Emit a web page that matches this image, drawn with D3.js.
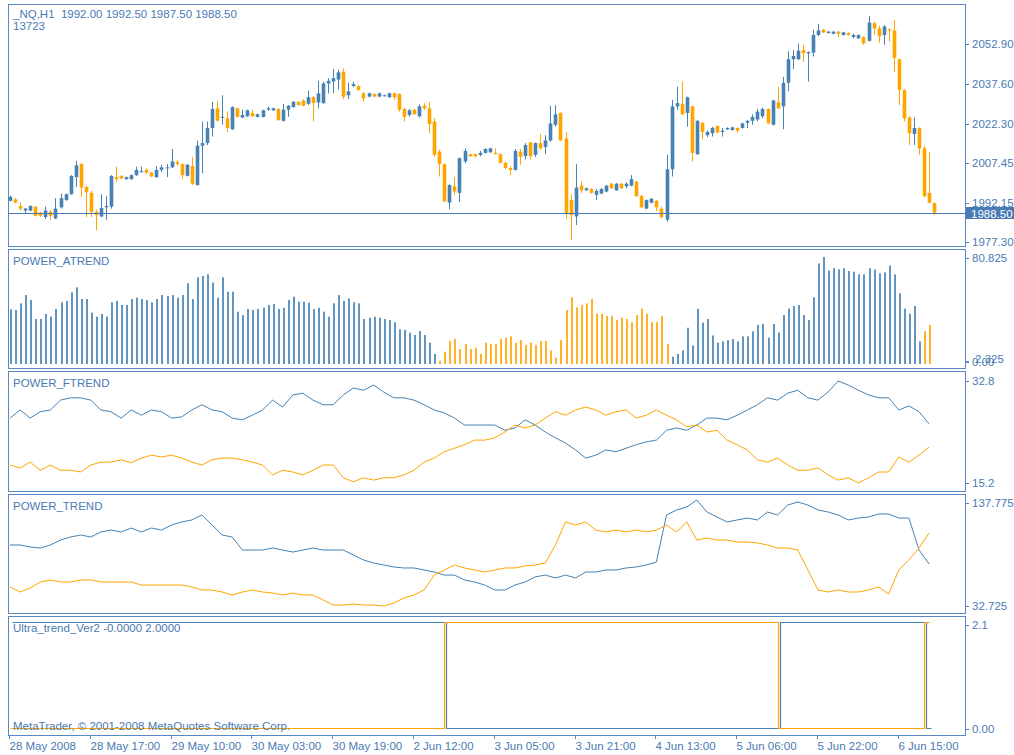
<!DOCTYPE html>
<html>
<head>
<meta charset="utf-8">
<script src="https://cdn.jsdelivr.net/npm/d3@7"></script>
<style>
body { margin: 0; background: #fff; }
svg text { font-family: "Liberation Sans", Arial, sans-serif; font-size: 11.5px; fill: #4a7ab4; }
</style>
</head>
<body>
<svg width="1014" height="755"></svg>
<script>
// ---- data ----
const xLabels = ["28 May 2008", "28 May 17:00", "29 May 10:00", "30 May 03:00", "30 May 19:00", "2 Jun 12:00",
                 "3 Jun 05:00", "3 Jun 21:00", "4 Jun 13:00", "5 Jun 06:00", "5 Jun 22:00", "6 Jun 15:00"];
const xTickBars = [0, 16, 32, 48, 64, 80, 96, 112, 128, 144, 160, 176];

const open = [1993.0,1993.5,1991.0,1989.25,1989.25,1990.75,1988.5,1986.75,1988.75,1986.25,
  1990.5,1993.25,1995.5,2002.0,2007.0,1998.25,1996.0,1988.75,1987.0,1990.5,
  1990.75,2002.0,2002.5,2001.25,2001.25,2002.75,2004.0,2004.75,2003.75,2002.0,
  2004.75,2005.5,2005.75,2007.75,2007.0,2002.5,2006.25,1999.0,2014.0,2015.0,
  2020.75,2028.25,2024.75,2024.5,2020.25,2028.25,2024.75,2025.25,2026.5,2025.0,
  2025.0,2027.75,2027.5,2028.0,2023.5,2027.75,2028.75,2030.75,2031.25,2030.0,
  2032.5,2030.5,2030.25,2037.75,2038.5,2039.25,2042.25,2033.25,2036.75,2036.75,
  2034.0,2032.75,2033.75,2032.75,2033.0,2032.5,2034.0,2033.75,2028.0,2025.75,
  2027.75,2025.25,2029.25,2028.25,2023.25,2011.75,2007.0,1992.25,1998.5,1996.0,
  2008.0,2010.75,2010.75,2010.5,2011.25,2011.5,2011.25,2010.75,2007.5,2005.5,
  2004.75,2011.75,2010.0,2015.25,2010.5,2015.0,2013.5,2016.0,2022.0,2026.5,
  2016.75,1993.25,1987.0,1998.75,1997.0,1997.5,1995.25,1995.75,1996.5,1999.5,
  1997.0,1999.5,1998.5,1998.75,2000.25,1994.75,1990.0,1992.25,1993.0,1990.0,
  1985.75,2005.0,2029.0,2030.0,2026.5,2029.0,2010.75,2022.75,2018.0,2018.75,
  2021.5,2019.25,2020.25,2020.0,2020.75,2020.75,2022.75,2023.5,2024.0,2025.25,
  2028.0,2022.0,2030.5,2029.0,2038.0,2047.0,2047.0,2050.5,2049.25,2049.5,
  2056.25,2058.25,2057.0,2056.75,2057.5,2056.25,2057.0,2055.5,2055.0,2055.5,
  2054.0,2060.75,2058.75,2056.25,2058.5,2058.0,2047.0,2035.25,2024.75,2018.5,
  2020.75,2013.0,1996.0,1992.0];
const high = [1995.0,1994.0,1992.5,1990.25,1991.25,1991.0,1988.75,1990.75,1989.5,1994.0,
  1995.75,1995.75,2002.75,2008.25,2007.5,1998.75,1996.75,1989.75,1995.5,1994.75,
  2002.75,2006.0,2002.75,2002.25,2003.0,2006.0,2006.0,2005.5,2004.0,2006.25,
  2006.75,2007.0,2012.75,2008.5,2007.25,2007.0,2009.75,2016.0,2023.25,2023.25,
  2030.75,2030.75,2033.25,2027.0,2029.0,2028.5,2027.75,2027.75,2027.75,2026.25,
  2027.75,2029.0,2028.5,2028.25,2030.0,2029.5,2031.0,2031.0,2031.75,2035.0,
  2033.0,2038.75,2038.5,2039.75,2043.25,2043.0,2043.5,2038.0,2038.5,2037.0,
  2034.5,2034.25,2034.0,2034.25,2033.5,2034.25,2034.25,2034.0,2028.5,2028.0,
  2028.0,2029.75,2030.25,2030.75,2024.5,2012.5,2007.25,1999.25,2002.0,2009.5,
  2013.0,2011.0,2011.0,2012.0,2013.0,2013.25,2013.0,2011.0,2007.75,2006.25,
  2012.75,2012.75,2015.0,2015.5,2015.25,2018.5,2018.0,2029.25,2029.5,2026.75,
  2019.25,1995.5,2007.0,2000.25,1998.0,1997.75,1997.5,1997.75,1999.0,1999.75,
  1999.75,1999.75,2000.0,2002.75,2000.75,1995.25,1993.5,1994.0,1993.25,1990.75,
  2010.5,2031.5,2036.5,2038.5,2032.75,2029.25,2023.75,2023.0,2019.75,2021.25,
  2021.75,2020.75,2021.0,2021.25,2021.0,2022.75,2023.75,2026.0,2028.0,2028.5,
  2028.25,2031.5,2036.5,2040.25,2050.0,2050.5,2053.0,2052.5,2050.0,2058.25,
  2060.5,2058.5,2057.75,2057.75,2057.75,2057.5,2057.25,2056.75,2056.5,2055.75,
  2063.5,2061.25,2059.75,2060.0,2058.75,2062.0,2047.25,2035.5,2025.25,2024.75,
  2021.0,2014.0,2011.5,1992.5];
const low = [1992.75,1992.0,1989.25,1988.25,1989.0,1987.0,1986.75,1986.0,1985.75,1986.0,
  1990.0,1993.0,1995.25,1998.25,1994.5,1986.75,1986.75,1981.75,1986.75,1985.75,
  1990.0,2000.25,2001.25,2001.0,2001.0,2002.5,2003.75,2003.25,2002.0,2001.75,
  2004.0,2002.0,2005.5,2006.25,2001.5,2002.25,1999.0,1998.75,2003.5,2014.25,
  2017.5,2023.25,2022.0,2019.25,2020.0,2024.75,2024.5,2025.0,2025.0,2024.75,
  2024.75,2027.25,2027.25,2023.5,2023.25,2025.0,2028.5,2029.25,2029.0,2029.5,
  2023.25,2028.25,2030.0,2034.0,2034.0,2035.5,2031.75,2031.75,2036.5,2035.0,
  2030.75,2032.5,2032.5,2032.5,2032.75,2032.25,2031.5,2027.0,2023.25,2025.0,
  2025.75,2024.75,2027.75,2018.75,2009.75,2002.25,1992.5,1989.75,1995.25,1992.5,
  2007.25,2009.75,2009.5,2010.0,2011.0,2011.25,2010.75,2007.25,2005.0,2002.75,
  2004.5,2006.75,2008.75,2008.75,2009.75,2012.5,2010.75,2015.5,2021.25,2015.75,
  1986.0,1978.0,1983.75,1996.0,1996.75,1995.75,1993.25,1995.5,1996.25,1997.5,
  1996.75,1997.5,1997.75,1998.5,1994.5,1990.25,1989.75,1992.0,1989.0,1986.25,
  1985.0,2002.25,2027.75,2025.75,2021.25,2008.0,2010.5,2016.5,2017.25,2017.5,
  2018.75,2017.5,2020.0,2019.75,2019.0,2020.5,2020.75,2022.0,2023.25,2024.5,
  2022.25,2021.75,2028.0,2020.25,2034.75,2043.25,2046.75,2046.0,2038.5,2048.0,
  2055.75,2057.0,2056.75,2056.5,2055.5,2056.0,2056.0,2055.0,2054.75,2052.5,
  2053.75,2056.25,2053.25,2052.5,2053.75,2042.25,2029.5,2023.25,2014.25,2014.25,
  2010.5,1994.25,1992.0,1987.5];
const close = [1994.5,1992.25,1990.0,1990.0,1991.0,1987.25,1987.25,1989.25,1987.25,1990.0,
  1994.0,1995.5,2002.5,2006.5,1998.0,1996.25,1988.75,1987.5,1990.25,1991.0,
  2002.5,2001.25,2001.5,2002.0,2002.75,2004.75,2004.25,2003.75,2002.25,2004.75,
  2005.75,2005.75,2008.0,2007.0,2002.75,2006.75,1999.5,2014.0,2015.0,2020.75,
  2028.0,2023.5,2025.0,2020.75,2028.75,2025.0,2025.75,2027.5,2025.25,2026.0,
  2027.5,2028.25,2028.25,2023.75,2027.75,2029.25,2030.75,2029.5,2029.25,2032.5,
  2030.25,2034.0,2037.75,2038.75,2039.75,2042.0,2032.75,2034.75,2037.5,2035.25,
  2032.0,2034.0,2032.75,2034.0,2033.25,2034.0,2032.5,2027.75,2025.0,2027.5,
  2026.0,2029.0,2028.25,2022.25,2010.5,2007.0,1992.75,1999.0,1996.5,2009.25,
  2012.0,2010.0,2010.0,2011.25,2012.75,2013.0,2010.75,2007.5,2005.5,2004.75,
  2012.0,2009.75,2014.25,2010.0,2015.0,2013.0,2016.0,2022.5,2026.0,2016.0,
  1988.25,1987.5,1998.0,1997.0,1997.75,1996.0,1996.75,1997.5,1998.75,1997.75,
  1999.5,1997.75,1999.5,2001.25,1994.75,1990.5,1993.25,1993.75,1990.5,1986.75,
  2005.0,2029.0,2030.25,2026.0,2032.5,2011.25,2023.5,2019.25,2019.25,2020.75,
  2019.0,2019.75,2020.75,2021.0,2019.75,2022.5,2023.5,2025.0,2027.0,2028.0,
  2022.5,2031.25,2028.25,2038.0,2047.0,2048.25,2050.25,2049.25,2049.75,2056.25,
  2058.0,2057.25,2057.5,2057.5,2056.75,2057.25,2056.25,2056.25,2056.25,2053.0,
  2061.0,2058.75,2055.75,2059.5,2058.0,2047.5,2035.25,2024.5,2018.75,2020.75,
  2013.0,1994.75,1992.25,1988.5];
const volume = 13723;
const mainTicks = [2052.90, 2037.60, 2022.30, 2007.45, 1992.15, 1977.30];

// POWER_ATREND histogram, one value per bar (last bar not computed)
const atrend = [41.3,40.8,45.8,52.1,48.3,34.0,34.0,37.8,35.7,41.5,
  46.6,47.6,54.1,57.9,49.1,49.1,38.8,35.7,37.8,35.7,
  46.6,47.6,44.6,44.6,49.1,50.1,49.1,48.3,46.6,49.1,
  52.1,51.4,52.1,50.1,52.1,60.9,49.1,65.5,66.5,67.7,
  61.4,50.1,65.5,54.6,54.6,39.5,37.0,41.5,40.8,41.5,
  42.5,44.6,45.3,41.5,42.5,48.3,50.8,47.1,47.1,46.3,
  41.5,42.5,39.5,35.7,45.8,52.1,47.6,49.6,46.6,45.8,
  34.0,35.0,35.7,35.0,34.0,33.2,31.5,26.2,25.7,23.7,
  21.9,24.9,21.9,16.1,7.6,2.325,9.3,17.4,18.9,11.3,
  15.1,11.3,12.3,7.6,16.1,15.1,15.1,18.9,19.9,20.9,
  15.9,18.1,14.4,16.1,14.4,17.4,17.4,10.3,4.8,18.1,
  40.8,50.4,42.8,44.6,45.8,49.1,38.0,38.0,36.3,36.3,
  33.2,35.0,34.0,31.5,36.8,41.8,38.0,31.5,31.5,36.3,
  15.1,5.5,7.6,10.3,27.4,14.1,41.8,31.2,34.0,21.6,
  16.1,17.1,18.1,18.9,17.1,20.9,20.9,24.7,29.5,30.2,
  19.9,30.2,23.7,37.0,41.8,43.8,44.6,37.0,33.2,50.4,
  76.0,80.825,70.5,72.3,71.5,72.3,70.2,69.7,67.7,67.7,
  72.3,71.5,68.5,69.2,74.3,67.7,53.4,41.8,38.0,43.8,
  17.1,24.7,29.5];
const atrendDownRuns = [[85, 130], [181, 182]];   // bars drawn orange
const atrendTicks = [0, 2.325, 80.825], atrendTickLabels = ["0.00", "2.325", "80.825"];

// line indicators, read every second bar
const LINE_STEP = 2;
const ftBlue = [26.4,27.8,26.4,27.5,27.8,29.5,29.9,29.9,29.5,27.8,
  27.5,26.4,27.8,26.9,27.8,27.5,26.4,26.6,27.8,28.7,
  27.8,27.5,26.4,26.1,26.9,27.8,29.5,28.3,30.4,30.7,
  29.5,28.7,28.7,30.4,31.6,31.2,32.1,30.9,29.9,29.9,
  29.5,28.7,27.8,27.3,26.4,25.2,25.2,25.2,25.2,24.3,
  24.7,26.1,25.2,24.0,23.0,22.1,20.9,19.5,20.0,20.9,
  20.6,21.2,21.8,22.3,22.6,24.3,24.7,24.3,25.2,26.4,
  26.4,26.1,26.9,27.8,28.7,29.9,29.5,30.7,31.2,29.9,
  29.5,30.9,32.8,32.1,31.2,30.4,29.9,29.9,27.8,28.5,
  27.5,25.4];
const ftOrange = [18.3,17.8,18.8,17.4,18.3,17.4,17.4,17.1,18.3,18.8,
  18.8,19.2,18.7,19.5,20.0,19.7,20.0,19.5,18.8,18.3,
  19.2,19.5,19.5,19.2,18.8,18.3,16.6,17.4,17.1,16.6,
  17.4,18.3,18.3,16.1,15.4,16.1,15.7,16.1,16.1,16.6,
  17.4,18.8,19.5,20.6,21.2,21.8,22.6,22.6,23.0,24.0,
  25.2,24.7,25.2,26.4,27.5,26.9,27.8,28.3,27.8,26.9,
  27.5,27.8,26.4,26.9,27.8,26.9,26.1,24.9,25.2,24.0,
  24.3,22.6,21.8,20.9,19.2,18.8,19.5,18.3,17.4,17.4,
  17.8,16.6,15.7,16.1,15.2,16.1,17.1,17.1,19.7,18.8,
  20.0,21.4];
const ftTicks = [15.2, 32.8], ftTickLabels = ["15.2", "32.8"];

const trBlue = [93.2,93.2,91.2,90.2,93.2,98.1,101.1,103.1,101.1,106.1,
  108.0,106.1,110.0,106.1,110.0,108.0,113.0,116.0,118.0,122.9,
  113.0,103.1,101.1,88.2,88.2,88.2,90.2,88.2,86.2,88.2,
  90.2,88.2,88.2,88.2,83.3,78.3,75.3,73.4,71.4,70.4,
  70.4,68.4,66.4,63.4,63.4,58.5,56.5,53.5,48.6,48.6,
  53.5,56.5,61.5,63.4,60.5,63.4,60.5,66.4,66.4,68.4,
  68.4,70.4,71.4,73.4,76.3,122.9,127.9,130.8,137.775,125.9,
  120.9,116.0,118.0,119.9,118.0,125.9,122.9,132.8,135.8,132.8,
  127.9,125.9,122.9,118.0,119.9,120.9,123.9,123.9,119.9,119.9,
  88.2,74.3];
const trOrange = [51.6,46.6,50.6,56.5,58.5,56.5,56.5,58.5,58.5,56.5,
  56.5,56.5,56.5,53.5,53.5,53.5,53.5,53.5,51.6,48.6,
  48.6,46.6,43.6,46.6,48.6,46.6,45.6,43.6,45.6,43.6,
  43.6,38.7,33.7,33.7,34.7,33.7,33.7,32.725,35.7,40.7,
  43.6,48.6,63.4,68.4,73.4,70.4,68.4,66.4,68.4,70.4,
  70.4,72.4,73.4,75.3,93.2,116.0,113.0,116.0,108.0,106.1,
  108.0,106.1,108.0,106.1,108.0,113.0,106.1,116.0,98.1,100.1,
  98.1,98.1,96.1,96.1,95.2,93.2,90.2,90.2,88.2,68.4,
  48.6,46.6,48.6,46.6,46.6,48.6,51.6,44.6,68.4,78.3,
  90.2,105.1];
const trTicks = [32.725, 137.775], trTickLabels = ["32.725", "137.775"];

// Ultra_trend_Ver2: [firstBar, lastBar, value]
const ultraBlueRuns = [[0, 86, 2], [87, 152, 0], [153, 181, 2], [182, 182, 0]];
const ultraOrangeRuns = [[0, 86, 0], [87, 152, 2], [153, 181, 0], [182, 182, 2]];
const ultraTicks = [0, 2.1], ultraTickLabels = ["0.00", "2.1"];

// ---- drawing ----
const BLUE = "#4682b4", ORANGE = "#ffa500", FRAME = "#5b88c0", TEXT = "#4a7ab4";
const svg = d3.select("svg");
const nBars = open.length;

const xs = d3.scaleLinear().domain([0, nBars - 1]).range([10, 10 + 5.05 * (nBars - 1)]);
const px = i => Math.round(xs(i));

const panels = [
    {top: 4, bottom: 246},
    {top: 249, bottom: 368},
    {top: 371, bottom: 491},
    {top: 494, bottom: 613},
    {top: 616, bottom: 735}
];

panels.forEach(function (p) {
    svg.append("rect")
        .attr("x", 8.5).attr("y", p.top + 0.5)
        .attr("width", 957).attr("height", p.bottom - p.top)
        .attr("fill", "none").attr("stroke", FRAME);
});

function expandRuns(runs) {
    const out = [];
    runs.forEach(r => { for (let i = r[0]; i <= r[1]; i++) out.push({i: i, v: r[2]}); });
    return out;
}

function rightAxis(scale, vals, labels, p, clamp) {
    const ax = svg.append("g")
        .attr("transform", "translate(965,0)")
        .call(d3.axisRight(scale).tickValues(vals)
            .tickFormat((d, i) => labels[i]).tickSize(4).tickPadding(3));
    ax.select(".domain").remove();
    ax.attr("font-size", null).attr("font-family", null);
    ax.selectAll(".tick").attr("transform", function (d) {
        let y = scale(d);
        if (clamp) y = Math.max(p.top + 9, Math.min(p.bottom - 6, y));
        return "translate(0," + (Math.round(y) + 0.5) + ")";
    });
    ax.selectAll(".tick line").attr("stroke", FRAME);
    ax.selectAll(".tick text").attr("fill", TEXT);
    return ax;
}

// main price window
const yMain = d3.scaleLinear().domain([1975, 2069.6]).range([247.9, 0]);
const candles = open.map((o, i) => ({i: i, o: o, h: high[i], l: low[i], c: close[i]}));
const cg = svg.append("g");

cg.selectAll("line.wick").data(candles).join("line")
    .attr("class", "wick")
    .attr("x1", d => px(d.i) + 0.5).attr("x2", d => px(d.i) + 0.5)
    .attr("y1", d => yMain(d.h)).attr("y2", d => yMain(d.l))
    .attr("stroke", d => d.c >= d.o ? BLUE : ORANGE);

cg.selectAll("rect.body").data(candles).join("rect")
    .attr("class", "body")
    .attr("x", d => px(d.i) + 0.5 - 1.8).attr("width", 3.6)
    .attr("y", d => yMain(Math.max(d.o, d.c)))
    .attr("height", d => Math.max(1, yMain(Math.min(d.o, d.c)) - yMain(Math.max(d.o, d.c))))
    .attr("fill", d => d.c >= d.o ? BLUE : ORANGE);

rightAxis(yMain, mainTicks, mainTicks.map(v => v.toFixed(2)), panels[0], false);

const last = nBars - 1;
const yLast = Math.round(yMain(close[last])) + 0.5;
svg.append("line")
    .attr("x1", 9).attr("x2", 965).attr("y1", yLast).attr("y2", yLast)
    .attr("stroke", "#4a7ab4");
svg.append("rect")
    .attr("x", 966).attr("y", yLast - 6.5).attr("width", 48).attr("height", 12)
    .attr("fill", "#4a7ab4");
svg.append("text")
    .attr("x", 971).attr("y", yLast + 4)
    .style("fill", "#fff")
    .text(close[last].toFixed(2));

svg.append("text")
    .attr("x", 13).attr("y", 18)
    .style("white-space", "pre")
    .text("_NQ,H1  " + [open[last], high[last], low[last], close[last]].map(v => v.toFixed(2)).join(" "));
svg.append("text").attr("x", 13).attr("y", 30).text(volume);

// POWER_ATREND
const pA = panels[1];
const yA = d3.scaleLinear().domain([0, 80.825]).range([364, 257]);
const isDown = i => atrendDownRuns.some(r => i >= r[0] && i <= r[1]);
svg.append("g").selectAll("rect").data(atrend).join("rect")
    .attr("x", (d, i) => px(i)).attr("width", 2)
    .attr("y", d => yA(d)).attr("height", d => yA(0) - yA(d))
    .attr("fill", (d, i) => isDown(i) ? ORANGE : BLUE)
    .attr("fill-opacity", 0.85);
const axA = rightAxis(yA, atrendTicks, atrendTickLabels, pA, true);
// the two bottom labels sit on top of each other in the original, slightly shifted
axA.selectAll(".tick text").filter(d => d === 2.325).attr("x", 10).attr("dy", "0.1em");

svg.append("text").attr("x", 13).attr("y", pA.top + 16).text("POWER_ATREND");

// line panels
function linePanel(p, scale, series, colors, ticks, tickLabels, title) {
    const line = d3.line().x((d, k) => xs(k * LINE_STEP)).y(d => scale(d));
    series.forEach(function (s, j) {
        svg.append("path").datum(s)
            .attr("d", line).attr("fill", "none")
            .attr("stroke", colors[j]).attr("stroke-width", 1);
    });
    rightAxis(scale, ticks, tickLabels, p, true);
    svg.append("text").attr("x", 13).attr("y", p.top + 16).text(title);
}

linePanel(panels[2], d3.scaleLinear().domain([15.2, 32.8]).range([483, 381]),
    [ftBlue, ftOrange], [BLUE, ORANGE], ftTicks, ftTickLabels, "POWER_FTREND");
linePanel(panels[3], d3.scaleLinear().domain([32.725, 137.775]).range([606, 500]),
    [trBlue, trOrange], [BLUE, ORANGE], trTicks, trTickLabels, "POWER_TREND");

// Ultra_trend_Ver2
const pU = panels[4];
const yU = d3.scaleLinear().domain([0, 2.1]).range([728.5, 617.2]);
const stepLine = d3.line().curve(d3.curveStepBefore)
    .x(d => px(d.i) + 0.5)
    .y(d => Math.floor(yU(d.v)) + 0.5);
const ultraG = svg.append("g");
[[ultraBlueRuns, BLUE, 2], [ultraOrangeRuns, ORANGE, 0]].forEach(function (u) {
    ultraG.append("path").datum(expandRuns(u[0]))
        .attr("transform", "translate(" + u[2] + ",0)")
        .attr("d", stepLine)
        .attr("fill", "none")
        .attr("stroke", u[1])
        .attr("stroke-width", 1.2);
});
rightAxis(yU, ultraTicks, ultraTickLabels, pU, true);
svg.append("text").attr("x", 13).attr("y", pU.top + 16)
    .style("white-space", "pre")
    .text("Ultra_trend_Ver2 -0.0000 2.0000");
svg.append("text").attr("x", 13).attr("y", 730)
    .text("MetaTrader, \u00a9 2001-2008 MetaQuotes Software Corp.");

// time axis
const xa = svg.append("g")
    .attr("transform", "translate(0,735)")
    .call(d3.axisBottom(xs).tickValues(xTickBars)
        .tickFormat((d, i) => xLabels[i]).tickSize(4).tickPadding(3));
xa.select(".domain").remove();
xa.attr("font-size", null).attr("font-family", null);
xa.selectAll(".tick").attr("transform", d => "translate(" + (px(d) - 0.5) + ",0)");
xa.selectAll(".tick line").attr("stroke", FRAME);
xa.selectAll(".tick text").attr("text-anchor", "start").attr("x", 0).attr("fill", TEXT);
</script>
</body>
</html>
